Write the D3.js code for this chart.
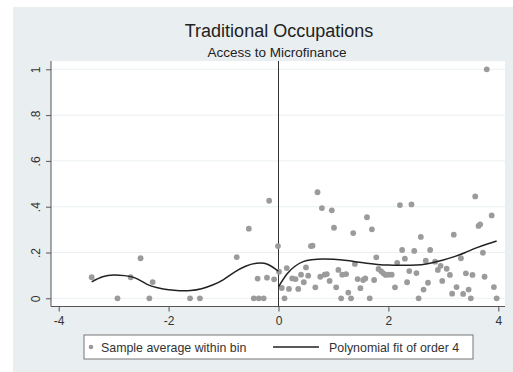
<!DOCTYPE html>
<html>
<head>
<meta charset="utf-8">
<script src="https://d3js.org/d3.v7.min.js"></script>
<style>
  body { margin: 0; background: #fff; }
  svg { display: block; font-family: "Liberation Sans", Arial, sans-serif; }
</style>
</head>
<body>
<svg id="chart" width="513" height="372"></svg>
<script>
// binned sample averages (x = running variable, y = share)
var binX = [-3.40, -2.93, -2.69, -2.51, -2.35, -2.29, -1.61, -1.43, -0.76, -0.54, -0.45, -0.38, -0.36, -0.27, -0.21, -0.17, -0.08, -0.01,
  0.01, 0.06, 0.11, 0.15, 0.19, 0.25, 0.31, 0.36, 0.41, 0.46, 0.50, 0.54, 0.59, 0.62, 0.67, 0.71, 0.76, 0.79, 0.84, 0.88, 0.93, 0.97,
  1.01, 1.05, 1.09, 1.14, 1.16, 1.23, 1.27, 1.32, 1.36, 1.39, 1.44, 1.49, 1.54, 1.58, 1.61, 1.66, 1.70, 1.74, 1.78, 1.82, 1.87, 1.91,
  1.95, 2.00, 2.06, 2.12, 2.16, 2.21, 2.25, 2.30, 2.34, 2.38, 2.42, 2.47, 2.51, 2.55, 2.59, 2.64, 2.68, 2.72, 2.76, 2.85, 2.90, 2.95,
  2.98, 3.06, 3.12, 3.16, 3.19, 3.24, 3.32, 3.36, 3.41, 3.46, 3.50, 3.53, 3.58, 3.64, 3.67, 3.72, 3.75, 3.79, 3.88, 3.92, 3.97]
var binY = [0.092, 0, 0.092, 0.175, 0, 0.071, 0, 0, 0.18, 0.304, 0, 0.086, 0, 0, 0.09, 0.426, 0.083, 0.228,
  0.116, 0.045, 0, 0.132, 0.041, 0.087, 0.084, 0.041, 0.103, 0.07, 0.135, 0.099, 0.228, 0.23, 0.048, 0.463, 0.094, 0.394, 0.103, 0.106, 0.076, 0.384,
  0.308, 0.048, 0.124, 0, 0.103, 0.106, 0.025, 0, 0.285, 0.15, 0.084, 0.044, 0.08, 0.087, 0.354, 0, 0.301, 0.08, 0.179, 0.128, 0.118, 0.109,
  0.102, 0.103, 0.103, 0.048, 0.155, 0.407, 0.211, 0.173, 0.07, 0.119, 0.41, 0.207, 0.11, 0, 0.268, 0.038, 0.164, 0.068, 0.211, 0.16, 0.124, 0.142,
  0.076, 0.129, 0.102, 0.02, 0.278, 0.049, 0.175, 0.019, 0.109, 0.038, 0, 0.102, 0.445, 0.316, 0.323, 0.199, 0.094, 1.0, 0.362, 0.049, 0]

// order 4 fit, left and right of the cutoff
var fitLeftX = [-3.4, -3.2, -3.0, -2.8, -2.6, -2.4, -2.2, -2.0, -1.8, -1.6, -1.4, -1.2, -1.0, -0.8, -0.6, -0.4, -0.2, 0]
var fitLeftY = [0.072, 0.094, 0.102, 0.099, 0.088, 0.062, 0.046, 0.037, 0.033, 0.034, 0.042, 0.058, 0.082, 0.114, 0.14, 0.153, 0.149, 0.118]
var fitRightX = [0, 0.15, 0.3, 0.45, 0.6, 0.8, 1.0, 1.2, 1.4, 1.6, 1.8, 2.0, 2.2, 2.4, 2.6, 2.8, 3.0, 3.2, 3.4, 3.6, 3.8, 3.97]
var fitRightY = [0.05, 0.105, 0.14, 0.16, 0.168, 0.172, 0.17, 0.166, 0.16, 0.153, 0.148, 0.145, 0.144, 0.144, 0.146, 0.155, 0.167, 0.182, 0.2, 0.22, 0.237, 0.25]

var xTicks = [-4, -2, 0, 2, 4]
var xTickLabels = ["-4", "-2", "0", "2", "4"]
var yTicks = [0, 0.2, 0.4, 0.6, 0.8, 1]
var yTickLabels = ["0", ".2", ".4", ".6", ".8", "1"]

var svg = d3.select("#chart")

// graph region
svg.append("rect").attr("x", 13).attr("y", 7).attr("width", 500).attr("height", 365).attr("fill", "#e9eef1")

var plot = {left: 51, right: 505, top: 61, bottom: 306.5}
var x = d3.scaleLinear().domain([-4, 4]).range([58.7, 498.3])
var y = d3.scaleLinear().domain([0, 1]).range([298.3, 69.3])

svg.append("rect")
  .attr("x", plot.left).attr("y", plot.top)
  .attr("width", plot.right - plot.left).attr("height", plot.bottom - plot.top)
  .attr("fill", "#fff")

// grid
svg.append("g").selectAll("line")
  .data(yTicks)
  .enter().append("line")
  .attr("x1", plot.left).attr("x2", plot.right)
  .attr("y1", d => y(d)).attr("y2", d => y(d))
  .attr("stroke", "#eaf0f2").attr("stroke-width", 1)

// titles
svg.append("text").attr("x", 279).attr("y", 37).attr("text-anchor", "middle")
  .attr("font-size", 18).attr("fill", "#222").text("Traditional Occupations")
svg.append("text").attr("x", 277).attr("y", 57).attr("text-anchor", "middle")
  .attr("font-size", 13.5).attr("fill", "#222").text("Access to Microfinance")

// axes
var xAxis = d3.axisBottom(x).tickValues(xTicks).tickFormat((d, i) => xTickLabels[i]).tickSize(5).tickSizeOuter(0).tickPadding(5)
var gx = svg.append("g").attr("transform", "translate(0," + plot.bottom + ")").call(xAxis)
gx.select(".domain").remove()
gx.selectAll("line").attr("stroke", "#555")
gx.selectAll("text").attr("font-size", 12).attr("fill", "#333").attr("font-family", "Liberation Sans, Arial, sans-serif")

var yAxis = d3.axisLeft(y).tickValues(yTicks).tickFormat((d, i) => yTickLabels[i]).tickSize(5).tickSizeOuter(0)
var gy = svg.append("g").attr("transform", "translate(" + plot.left + ",0)").call(yAxis)
gy.select(".domain").remove()
gy.selectAll("line").attr("stroke", "#555")
gy.selectAll("text")
  .attr("transform", "rotate(-90)")
  .attr("x", 0).attr("y", -11).attr("dy", 0)
  .attr("text-anchor", "middle")
  .attr("font-size", 12).attr("fill", "#333").attr("font-family", "Liberation Sans, Arial, sans-serif")

svg.append("line").attr("x1", plot.left).attr("x2", plot.left).attr("y1", plot.top).attr("y2", plot.bottom)
  .attr("stroke", "#555")
svg.append("line").attr("x1", plot.left).attr("x2", plot.right).attr("y1", plot.bottom).attr("y2", plot.bottom)
  .attr("stroke", "#555")

// cutoff
svg.append("line").attr("x1", x(0)).attr("x2", x(0)).attr("y1", plot.top).attr("y2", plot.bottom)
  .attr("stroke", "#333").attr("stroke-width", 1)

// bins
svg.append("g").selectAll("circle")
  .data(binX.map((d, i) => [d, binY[i]]))
  .enter().append("circle")
  .attr("cx", d => x(d[0])).attr("cy", d => y(d[1]))
  .attr("r", 2.9)
  .attr("fill", "#9b9b9b")

// fit lines
var line = d3.line().x(d => x(d[0])).y(d => y(d[1])).curve(d3.curveNatural)
svg.append("path").datum(fitLeftX.map((d, i) => [d, fitLeftY[i]]))
  .attr("d", line).attr("fill", "none").attr("stroke", "#222").attr("stroke-width", 1.5)
svg.append("path").datum(fitRightX.map((d, i) => [d, fitRightY[i]]))
  .attr("d", line).attr("fill", "none").attr("stroke", "#222").attr("stroke-width", 1.5)

// legend
var leg = svg.append("g")
leg.append("rect").attr("x", 84).attr("y", 335).attr("width", 389).attr("height", 24)
  .attr("fill", "#fff").attr("stroke", "#777").attr("stroke-width", 1)
leg.append("circle").attr("cx", 91).attr("cy", 347).attr("r", 2.3).attr("fill", "#9b9b9b")
leg.append("text").attr("x", 101).attr("y", 352).attr("font-size", 12.4).attr("fill", "#333").text("Sample average within bin")
leg.append("line").attr("x1", 273).attr("x2", 319).attr("y1", 347).attr("y2", 347)
  .attr("stroke", "#222").attr("stroke-width", 1.5)
leg.append("text").attr("x", 329).attr("y", 352).attr("font-size", 12.4).attr("fill", "#333").text("Polynomial fit of order 4")
</script>
</body>
</html>
